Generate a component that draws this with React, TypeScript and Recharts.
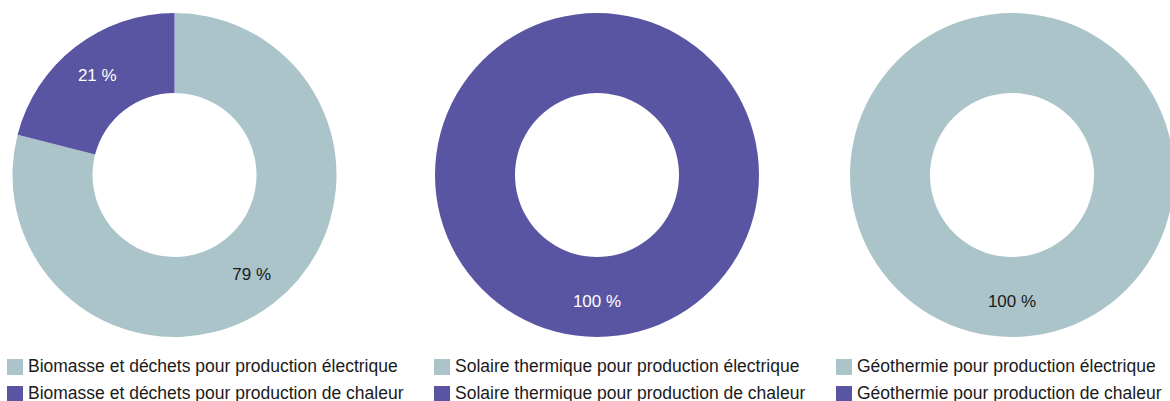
import { PieChart, Pie, Cell } from 'recharts';

const categories = ['Biomasse et déchets', 'Solaire thermique', 'Géothermie'];
const seriesNames = ['pour production électrique', 'pour production de chaleur'];
const electrique = [79, 0, 100];
const chaleur = [21, 100, 0];

const colors = ['#abc4c9', '#5a55a3'];
const labelColors = ['#1a1a1a', '#ffffff'];
const centers = [174.5, 597, 1012];
const legendLeft = [7, 434, 836];

const RADIAN = Math.PI / 180;

function renderLabel(props: any) {
  const { cx, cy, midAngle, innerRadius, outerRadius, value, index } = props;
  if (!value) return null;
  const r = innerRadius + (outerRadius - innerRadius) * 0.55;
  const x = cx + r * Math.cos(-midAngle * RADIAN);
  const y = cy + r * Math.sin(-midAngle * RADIAN);
  return (
    <text
      x={x}
      y={y}
      fill={labelColors[index]}
      textAnchor="middle"
      dominantBaseline="central"
      fontSize={17}
      fontFamily="'Liberation Sans', Arial, sans-serif"
    >
      {`${value} %`}
    </text>
  );
}

export default function App() {
  const pies = categories.map((cat, i) => [
    { name: `${cat} ${seriesNames[0]}`, value: electrique[i] },
    { name: `${cat} ${seriesNames[1]}`, value: chaleur[i] },
  ]);

  return (
    <div
      style={{
        position: 'absolute',
        left: 0,
        top: 0,
        width: 1170,
        height: 401,
        background: '#fff',
        fontFamily: "'Liberation Sans', Arial, sans-serif",
      }}
    >
      <PieChart width={1170} height={345} margin={{ top: 0, right: 0, bottom: 0, left: 0 }}>
        {pies.map((data, i) => (
          <Pie
            key={i}
            data={data}
            dataKey="value"
            nameKey="name"
            cx={centers[i]}
            cy={175}
            innerRadius={82}
            outerRadius={162}
            startAngle={90}
            endAngle={-270}
            stroke="none"
            label={renderLabel}
            labelLine={false}
            isAnimationActive={false}
          >
            {data.map((_, j) => (
              <Cell key={j} fill={colors[j]} />
            ))}
          </Pie>
        ))}
      </PieChart>
      {categories.map((cat, i) => (
        <div key={cat} style={{ position: 'absolute', left: legendLeft[i], top: 353 }}>
          {seriesNames.map((s, j) => (
            <div
              key={s}
              style={{ display: 'flex', alignItems: 'center', height: 27, fontSize: 17.5, color: '#1a1a1a', whiteSpace: 'nowrap' }}
            >
              <span style={{ display: 'inline-block', width: 16, height: 16, background: colors[j], marginRight: 5 }} />
              {`${cat} ${s}`}
            </div>
          ))}
        </div>
      ))}
    </div>
  );
}
